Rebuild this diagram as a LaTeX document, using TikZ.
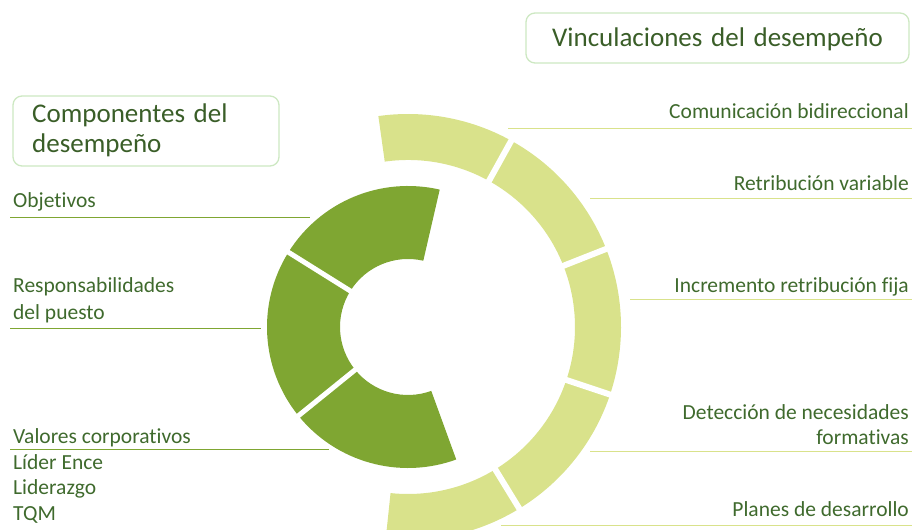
\documentclass[tikz,border=0pt]{standalone}
\usepackage{fontspec}
\setmainfont{Carlito}[Ligatures=NoCommon]
\definecolor{darkg}{HTML}{7FA632}
\definecolor{lightg}{HTML}{D9E28B}
\definecolor{txtg}{HTML}{3F6A2D}
\definecolor{ttlg}{HTML}{3A5E28}
\definecolor{boxg}{HTML}{CDE8C2}
\tikzset{
  lbl/.style={font=\fontsize{21.5}{26}\selectfont, text=txtg, inner sep=0pt},
  ttl/.style={font=\fontsize{27}{31}\selectfont, text=ttlg, inner sep=0pt},
  tbox/.style={draw=boxg, line width=1.3pt, rounded corners=9pt, fill=white},
  dline/.style={draw=darkg, line width=1pt},
  lline/.style={draw=lightg, line width=1pt},
}
\newcommand{\segm}[5]{%
  \fill[#5] ($(C)+(#1:#4)$) arc[start angle=#1, end angle=#2, radius=#4]
     -- ($(C)+(#2:#3)$) arc[start angle=#2, end angle=#1, radius=#3] -- cycle;}
\usetikzlibrary{calc}
\begin{document}
\begin{tikzpicture}[x=1pt,y=1pt]
\useasboundingbox (0,0) rectangle (914,530);
\coordinate (C) at (408,203);
% title boxes
\draw[tbox] (13,364) rectangle (279,434);
\node[ttl, anchor=base west] (t1a) at (32,407) {Componentes\hspace{0.32em}del};
\node[ttl, anchor=base west] (t1b) at (32,377) {desempeño};
\draw[tbox] (526,467) rectangle (909,517);
\node[ttl, anchor=base] (t2) at (717.5,483) {Vinculaciones\hspace{0.32em}del\hspace{0.32em}desempeño};
% dark ring
\segm{77}{148}{68}{141}{darkg}
\segm{148}{219}{68}{141}{darkg}
\segm{219}{290}{68}{141}{darkg}
\foreach \a in {148,219}{\draw[white, line width=5pt] ($(C)+(\a:60)$) -- ($(C)+(\a:150)$);}
% light ring
\segm{-96}{98}{167}{213}{lightg}
\foreach \a in {61,21.5,-18.5,-58.5}{\draw[white, line width=6pt] ($(C)+(\a:160)$) -- ($(C)+(\a:222)$);}
% left labels
\node[lbl, anchor=base west] (l1) at (13,322) {Objetivos};
\coordinate (l1s) at (10,312); \coordinate (l1e) at (310,312);
\draw[dline] (l1s) -- (l1e);
\node[lbl, anchor=base west] (l2a) at (13,237) {Responsabilidades};
\node[lbl, anchor=base west] (l2b) at (13,210.5) {del puesto};
\coordinate (l2s) at (10,201); \coordinate (l2e) at (261,201);
\draw[dline] (l2s) -- (l2e);
\node[lbl, anchor=base west] (l3a) at (13,86) {Valores corporativos};
\coordinate (l3s) at (10,80); \coordinate (l3e) at (329,80);
\draw[dline] (l3s) -- (l3e);
\node[lbl, anchor=base west] (l3b) at (13,60.5) {Líder Ence};
\node[lbl, anchor=base west] (l3c) at (13,35) {Liderazgo};
\node[lbl, anchor=base west] (l3d) at (13,9) {TQM};
% right labels
\node[lbl, anchor=base east] (r1) at (909,411) {Comunicación bidireccional};
\coordinate (r1s) at (508,401.5); \coordinate (r1e) at (912,401.5);
\draw[lline] (r1s) -- (r1e);
\node[lbl, anchor=base east] (r2) at (909,339) {Retribución variable};
\coordinate (r2s) at (590,331); \coordinate (r2e) at (912,331);
\draw[lline] (r2s) -- (r2e);
\node[lbl, anchor=base east] (r3) at (909,237) {Incremento retribución fija};
\coordinate (r3s) at (630,230.5); \coordinate (r3e) at (912,230.5);
\draw[lline] (r3s) -- (r3e);
\node[lbl, anchor=base east] (r4a) at (909,110) {Detección de necesidades};
\node[lbl, anchor=base east] (r4b) at (909,85) {formativas};
\coordinate (r4s) at (590,78.5); \coordinate (r4e) at (912,78.5);
\draw[lline] (r4s) -- (r4e);
\node[lbl, anchor=base east] (r5) at (909,13) {Planes de desarrollo};
\coordinate (r5s) at (501,4); \coordinate (r5e) at (912,4);
\draw[lline] (r5s) -- (r5e);
\end{tikzpicture}
\end{document}
